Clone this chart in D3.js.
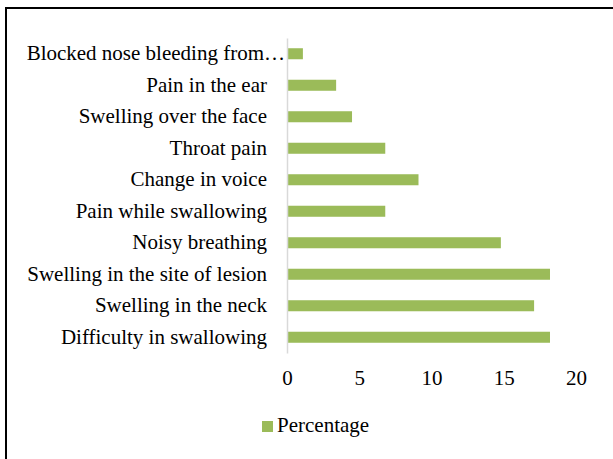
<!DOCTYPE html>
<html>
<head>
<meta charset="utf-8">
<script src="https://cdn.jsdelivr.net/npm/d3@7"></script>
<style>
  body { margin: 0; background: #fff; }
</style>
</head>
<body>
<div id="chart"></div>
<script>
var categories = ["Blocked nose bleeding from\u2026", "Pain in the ear", "Swelling over the face",
  "Throat pain", "Change in voice", "Pain while swallowing", "Noisy breathing",
  "Swelling in the site of lesion", "Swelling in the neck", "Difficulty in swallowing"];
var percentage = [1.1, 3.4, 4.5, 6.8, 9.1, 6.8, 14.8, 18.2, 17.1, 18.2];
var xTicks = [0, 5, 10, 15, 20];
var seriesName = "Percentage";

var W = 613, H = 459;
var FONT = "'Liberation Serif', 'Times New Roman', serif";
var margin = {top: 38, right: 37, bottom: 106, left: 287}
  , width = 576 - margin.left
  , height = 353 - margin.top;

var data = categories.map(function(c, i) { return {cat: c, v: percentage[i]}; });

var svg = d3.select("#chart").append("svg")
    .attr("width", W).attr("height", H);

// outer frame
svg.append("rect")
    .attr("x", 6).attr("y", 8)
    .attr("width", W + 10).attr("height", H + 10)
    .attr("fill", "none").attr("stroke", "#000").attr("stroke-width", 2);

var g = svg.append("g")
    .attr("transform", "translate(" + margin.left + "," + margin.top + ")");

var xScale = d3.scaleLinear()
    .domain([0, 20])
    .range([0, width]);

var yScale = d3.scaleBand()
    .domain(categories)
    .range([0, height])
    .paddingInner(0.65)
    .paddingOuter(0.325);

// bars
g.selectAll(".bar").data(data).enter().append("rect")
    .attr("class", "bar")
    .attr("x", 0)
    .attr("y", function(d) { return yScale(d.cat); })
    .attr("width", function(d) { return xScale(d.v); })
    .attr("height", yScale.bandwidth())
    .attr("fill", "#9BBB59");

// vertical axis line + category labels
var yAxis = g.append("g")
    .call(d3.axisLeft(yScale).tickSize(0).tickPadding(20));
yAxis.attr("font-family", FONT).attr("font-size", 21);
yAxis.select(".domain").attr("stroke", "#d9d9d9").attr("stroke-width", 1.5);
yAxis.selectAll(".tick text").attr("fill", "#000")
    .filter(function(d, i) { return i === 0; }).attr("dx", 18);

// x tick labels (no axis line)
var xAxis = g.append("g")
    .attr("transform", "translate(0," + (height + 17) + ")")
    .call(d3.axisBottom(xScale).tickValues(xTicks).tickSize(0).tickPadding(0));
xAxis.attr("font-family", FONT).attr("font-size", 21);
xAxis.select(".domain").remove();
xAxis.selectAll("text").attr("fill", "#000");

// legend
svg.append("rect").attr("x", 262).attr("y", 421).attr("width", 11).attr("height", 11).attr("fill", "#9BBB59");
svg.append("text").attr("x", 277).attr("y", 432).text(seriesName)
    .attr("font-family", FONT).attr("font-size", 21).attr("fill", "#000");
</script>
</body>
</html>
